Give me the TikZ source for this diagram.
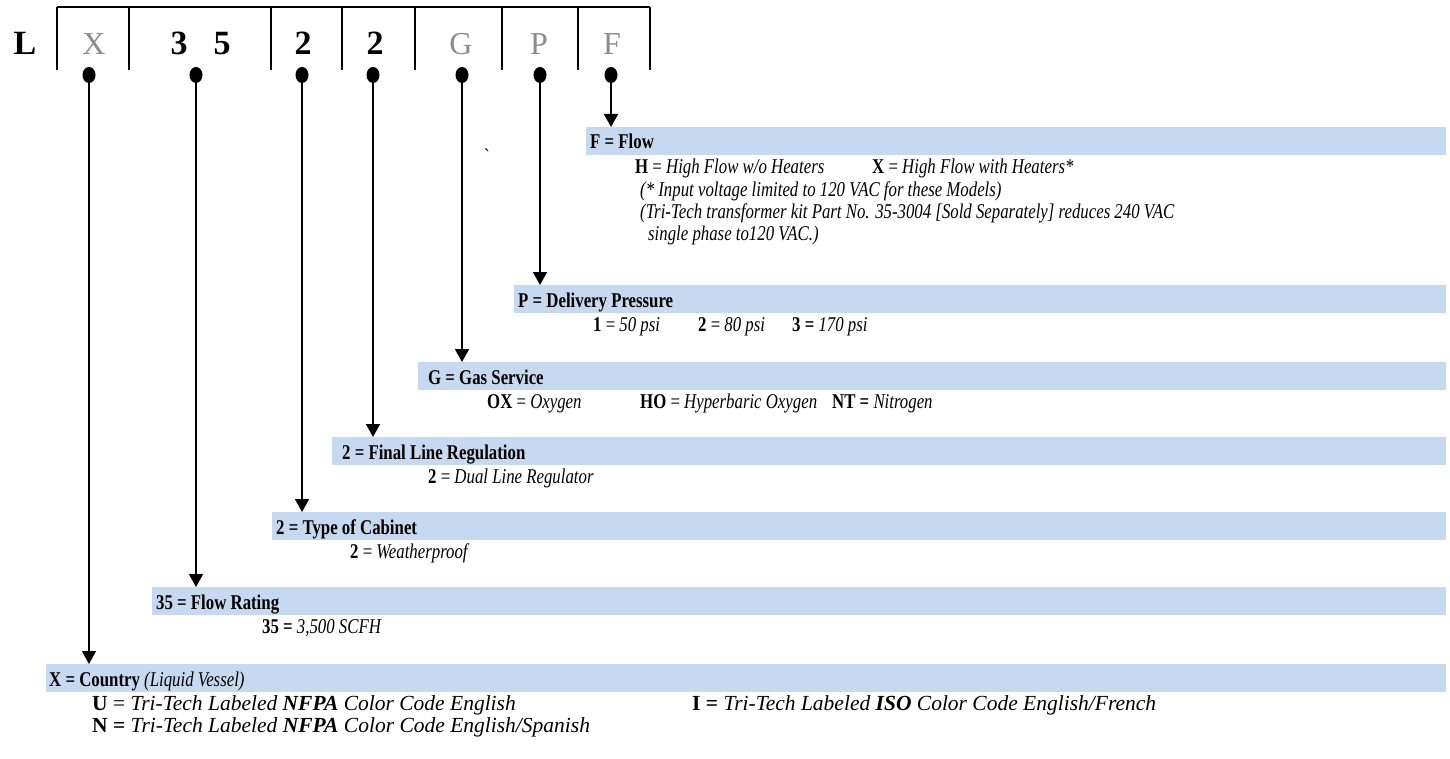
\documentclass[tikz,border=0pt]{standalone}
\usepackage{fontspec}
\setmainfont{Liberation Serif}
\newfontfamily\bodyfont[FakeStretch=0.8]{Liberation Serif}
\usetikzlibrary{arrows.meta,shapes.geometric}
\definecolor{bandblue}{HTML}{C6D9F0}
\definecolor{codegray}{HTML}{8C8C8C}
\begin{document}
\begin{tikzpicture}[x=1pt,y=-1pt,
  hdr/.style={font=\fontsize{34}{34}\selectfont\bfseries, anchor=base, inner sep=0pt},
  hdrg/.style={font=\fontsize{32}{32}\selectfont, text=codegray, anchor=base, inner sep=0pt},
  band/.style={fill=bandblue, draw=none, inner sep=0pt, minimum height=28pt, anchor=north west},
  ttl/.style={font=\bodyfont\fontsize{21}{23}\selectfont\bfseries, anchor=base west, inner sep=0pt},
  sub/.style={font=\bodyfont\fontsize{21}{23}\selectfont, anchor=base west, inner sep=0pt},
  subw/.style={font=\fontsize{21.5}{23}\selectfont, anchor=base west, inner sep=0pt},
  dotn/.style={ellipse, fill=black, minimum width=13pt, minimum height=16pt, inner sep=0pt},
  arr/.style={line width=1.6pt, -{Triangle[width=14pt,length=13pt]}},
  frame/.style={line width=1.6pt}
]
\useasboundingbox (0,0) rectangle (1450,759);

% header frame
\draw[frame] (57,7) -- (650,7);
\foreach \xx in {57,129,271,342,415,502,578,650}
  \draw[frame] (\xx,7) -- (\xx,70);

% header letters
\node[hdr] (hL) at (25,55) {L};
\node[hdrg] (hX) at (94,55) {X};
\node[hdr] (h3) at (179,55) {3};
\node[hdr] (h5) at (222,55) {5};
\node[hdr] (h2a) at (303,55) {2};
\node[hdr] (h2b) at (375,55) {2};
\node[hdrg] (hG) at (461,55) {G};
\node[hdrg] (hP) at (539,55) {P};
\node[hdrg] (hF) at (612,55) {F};

% bands
\node[band, minimum width=860pt] (bF) at (586,127) {};
\node[band, minimum width=932pt] (bP) at (514,285) {};
\node[band, minimum width=1028pt] (bG) at (418,362) {};
\node[band, minimum width=1114pt] (bR) at (332,437) {};
\node[band, minimum width=1174pt] (bC) at (272,512) {};
\node[band, minimum width=1294pt] (bS) at (152,587) {};
\node[band, minimum width=1400pt] (bX) at (46,664) {};

% dots
\node[dotn] (dX) at (89,75) {};
\node[dotn] (dS) at (196,75) {};
\node[dotn] (dC) at (302,75) {};
\node[dotn] (dR) at (373,75) {};
\node[dotn] (dG) at (462,75) {};
\node[dotn] (dP) at (540,75) {};
\node[dotn] (dF) at (611,75) {};

% connectors
\draw[arr] (dX.center) -- (dX.center |- bX.north);
\draw[arr] (dS.center) -- (dS.center |- bS.north);
\draw[arr] (dC.center) -- (dC.center |- bC.north);
\draw[arr] (dR.center) -- (dR.center |- bR.north);
\draw[arr] (dG.center) -- (dG.center |- bG.north);
\draw[arr] (dP.center) -- (dP.center |- bP.north);
\draw[arr] (dF.center) -- (dF.center |- bF.north);

% F = Flow
\node[ttl] (tF) at (590,149) {F = Flow};
\node[sub] (f1) at (635,174) {\textbf{H} = \textit{High Flow w/o Heaters}};
\node[sub] (f2) at (872,174) {\textbf{X} = \textit{High Flow with Heaters*}};
\node[sub] (f3) at (640,197) {\textit{(* Input voltage limited to 120 VAC for these Models)}};
\node[sub] (f4) at (640,219) {\textit{(Tri-Tech transformer kit Part No. 35-3004 [Sold Separately] reduces 240 VAC}};
\node[sub] (f5) at (648,241) {\textit{single phase to120 VAC.)}};
\node[sub] (tick) at (484,164) {`};

% P
\node[ttl] (tP) at (518,307) {P = Delivery Pressure};
\node[sub] (p1) at (593,331) {\textbf{1} = \textit{50 psi}};
\node[sub] (p2) at (698,331) {\textbf{2} = \textit{80 psi}};
\node[sub] (p3) at (792,331) {\textbf{3 =} \textit{170 psi}};

% G
\node[ttl] (tG) at (428,384) {G = Gas Service};
\node[sub] (g1) at (487,408) {\textbf{OX} = \textit{Oxygen}};
\node[sub] (g2) at (640,408) {\textbf{HO} = \textit{Hyperbaric Oxygen}};
\node[sub] (g3) at (832,408) {\textbf{NT =} \textit{Nitrogen}};

% Final line regulation
\node[ttl] (tR) at (342,459) {2 = Final Line Regulation};
\node[sub] (r1) at (428,483) {\textbf{2} = \textit{Dual Line Regulator}};

% Cabinet
\node[ttl] (tC) at (276,534) {2 = Type of Cabinet};
\node[sub] (c1) at (350,558) {\textbf{2} = \textit{Weatherproof}};

% Flow rating
\node[ttl] (tS) at (156,609) {35 = Flow Rating};
\node[sub] (s1) at (262,633) {\textbf{35 =} \textit{3,500 SCFH}};

% Country
\node[ttl] (tX) at (49,686) {X = Country \textmd{\textit{(Liquid Vessel)}}};
\node[subw] (x1) at (92,710) {\textbf{U} = \textit{Tri-Tech Labeled \textbf{NFPA} Color Code English}};
\node[subw] (x2) at (692,710) {\textbf{I =} \textit{Tri-Tech Labeled \textbf{ISO} Color Code English/French}};
\node[subw] (x3) at (92,732) {\textbf{N =} \textit{Tri-Tech Labeled \textbf{NFPA} Color Code English/Spanish}};
\end{tikzpicture}
\end{document}
